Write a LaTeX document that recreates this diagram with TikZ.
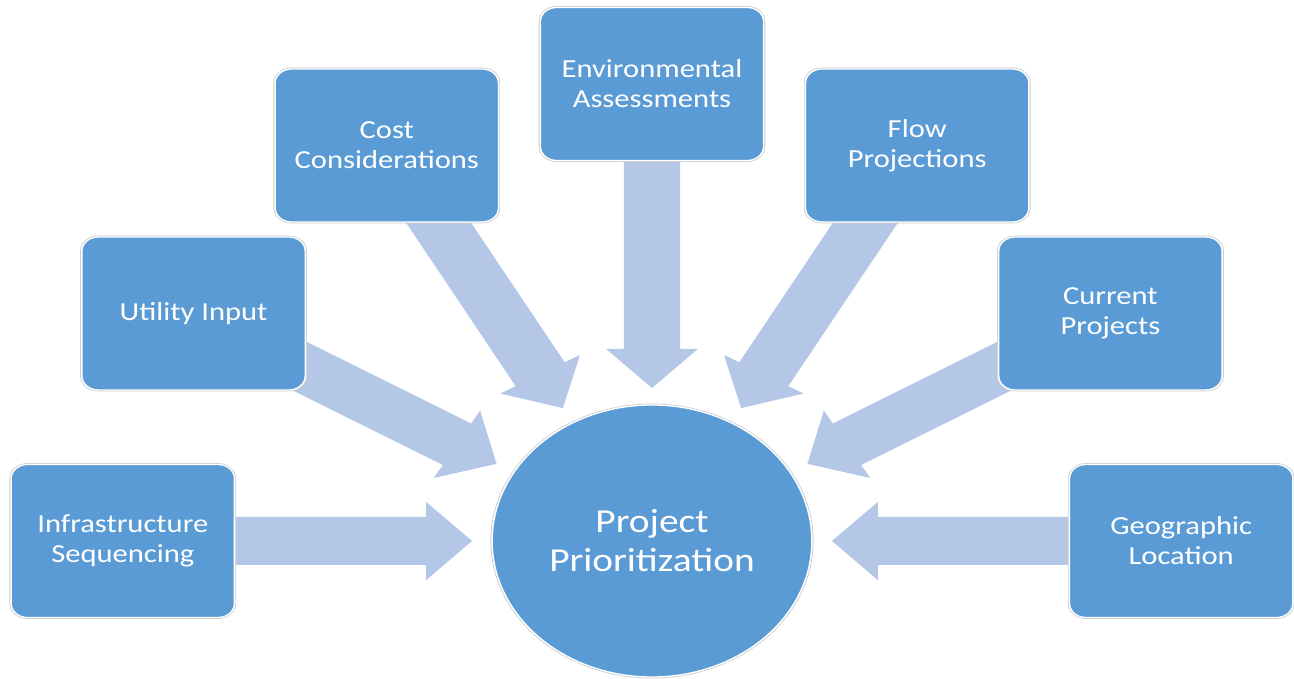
\documentclass[tikz,border=0pt]{standalone}
\usepackage{fontspec}
\setmainfont{Carlito}
\usetikzlibrary{calc}
\definecolor{boxblue}{HTML}{5B9BD5}
\definecolor{arrowblue}{HTML}{B4C7E7}
\pgfdeclarelayer{background}
\pgfsetlayers{background,main}
\tikzset{
  card/.style={rectangle, rounded corners=14pt, fill=boxblue, draw=white, line width=1.3pt,
    preaction={draw=black!20, line width=2.8pt},
    minimum width=190pt, minimum height=153pt, text=white, align=center,
    font=\fontsize{26}{30}\selectfont, inner sep=0pt},
  hub/.style={circle, fill=boxblue, draw=white, line width=1.3pt,
    preaction={draw=black!20, line width=2.8pt},
    minimum size=272pt, text=white, align=center,
    font=\fontsize{33.5}{39}\selectfont, inner sep=0pt},
  blockarrow/.style={fill=arrowblue},
  stretched/.style={transform canvas={xscale=1.176}}
}
\newcommand\blockarr[1]{%
  \coordinate (#1-t) at ($(pp.center)!153pt!(#1.center)$);
  \coordinate (#1-b) at ($(pp.center)!192pt!(#1.center)$);
  \fill[blockarrow] (#1-t)
    -- ($(#1-b)!39pt!90:(#1.center)$)
    -- ($(#1-b)!24pt!90:(#1.center)$)
    -- ($(#1.center)!24pt!-90:(pp.center)$)
    -- ($(#1.center)!24pt!90:(pp.center)$)
    -- ($(#1-b)!24pt!-90:(#1.center)$)
    -- ($(#1-b)!39pt!-90:(#1.center)$)
    -- cycle;%
}
\begin{document}
\begin{tikzpicture}[x=1pt,y=1pt]
\useasboundingbox (-652,-138) rectangle (642,541);
\begin{scope}[stretched]
  \node[hub] (pp) at (0,0) {Project\\Prioritization};
  \node[card] (inf)  at (-450,0)     {Infrastructure\\Sequencing};
  \node[card] (util) at (-389.8,227.5) {Utility Input};
  \node[card] (cost) at (-225.5,395.5) {Cost\\Considerations};
  \node[card] (env)  at (0,457)      {Environmental\\Assessments};
  \node[card] (flow) at (225.5,395.5)  {Flow\\Projections};
  \node[card] (curr) at (389.8,227.5)  {Current\\Projects};
  \node[card] (geo)  at (450,0)      {Geographic\\Location};
\end{scope}
\begin{pgfonlayer}{background}
\begin{scope}[stretched]
  \blockarr{inf}
  \blockarr{util}
  \blockarr{cost}
  \blockarr{env}
  \blockarr{flow}
  \blockarr{curr}
  \blockarr{geo}
\end{scope}
\end{pgfonlayer}
\end{tikzpicture}
\end{document}
